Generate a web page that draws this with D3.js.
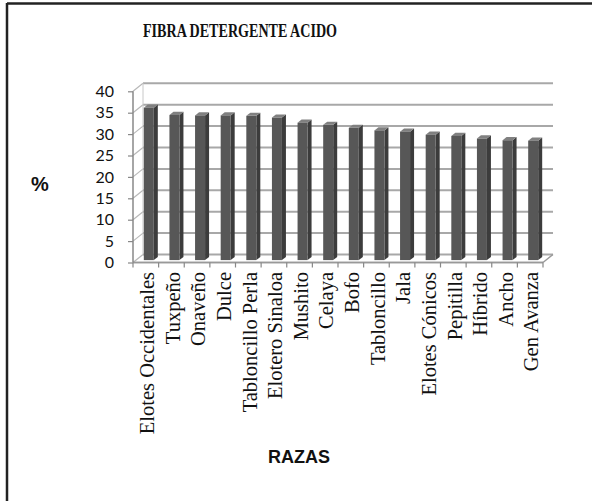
<!DOCTYPE html>
<html><head><meta charset="utf-8">
<script src="https://cdn.jsdelivr.net/npm/d3@7"></script>
<style>body{margin:0;background:#fff}svg{display:block}</style>
</head><body>
<svg id="c" width="592" height="501"></svg>
<script>
const categories = ["Elotes Occidentales","Tuxpeño","Onaveño","Dulce","Tabloncillo Perla","Elotero Sinaloa","Mushito","Celaya","Bofo","Tabloncillo","Jala","Elotes Cónicos","Pepitilla","Híbrido","Ancho","Gen Avanza"];
const values = [35.6,33.9,33.8,33.8,33.7,33.3,32.1,31.6,30.9,30.3,30.0,29.3,29.0,28.4,28.0,27.9];
const yTicks = [0,5,10,15,20,25,30,35,40];
const title = "FIBRA DETERGENTE ACIDO";
const yTitle = "%";
const xTitle = "RAZAS";

const svg = d3.select("#c");
const W = 592, H = 501;
const left = 133, right = 543;
const y0px = 262.5, y40px = 91.3;
const D = {dx: 10, dy: -8};

const x = d3.scaleBand().domain(categories).range([left, right]).padding(0);
const y = d3.scaleLinear().domain([0, 40]).range([y0px, y40px]);

// frame
svg.append("line").attr("x1",7).attr("y1",3.5).attr("x2",W).attr("y2",3.5).attr("stroke","#222").attr("stroke-width",2.5);
svg.append("line").attr("x1",7).attr("y1",3).attr("x2",7).attr("y2",H).attr("stroke","#222").attr("stroke-width",2.5);

// title
svg.append("text").attr("x",240).attr("y",37).attr("text-anchor","middle")
  .attr("font-family","'Liberation Serif','Times New Roman',serif").attr("font-weight","bold")
  .attr("font-size",18).attr("textLength",194).attr("lengthAdjust","spacingAndGlyphs")
  .attr("fill","#111").text(title);

const g = svg.append("g");
const gridColor = "#a8a8a8";

// back wall gridlines
yTicks.forEach(t => {
  g.append("line").attr("x1", left + D.dx).attr("x2", right + D.dx)
    .attr("y1", y(t) + D.dy).attr("y2", y(t) + D.dy)
    .attr("stroke", gridColor).attr("stroke-width", 2);
  g.append("line").attr("x1", left).attr("y1", y(t)).attr("x2", left + D.dx).attr("y2", y(t) + D.dy)
    .attr("stroke", "#b8b8b8").attr("stroke-width", 1.2);
});
g.append("line").attr("x1", left + D.dx).attr("x2", left + D.dx).attr("y1", y(0) + D.dy).attr("y2", y(40) + D.dy)
  .attr("stroke", "#c8c8c8").attr("stroke-width", 1);
g.append("line").attr("x1", left).attr("x2", right).attr("y1", y(0)).attr("y2", y(0))
  .attr("stroke", "#999").attr("stroke-width", 1.5);
g.append("line").attr("x1", right).attr("y1", y(0)).attr("x2", right + D.dx).attr("y2", y(0) + D.dy)
  .attr("stroke", "#999").attr("stroke-width", 1.5);

// bars
const w = 10, f0 = 0.3, fd = 0.4;
categories.forEach((c, i) => {
  const v = values[i];
  const x0 = x(c) + x.bandwidth()/2 - w/2 + f0 * D.dx;
  const top = y(v) + f0 * D.dy, bot = y(0) + f0 * D.dy;
  const ddx = fd * D.dx, ddy = fd * D.dy;
  g.append("polygon").attr("points", [[x0+w,top],[x0+w+ddx,top+ddy],[x0+w+ddx,bot+ddy],[x0+w,bot]].join(" "))
    .attr("fill", "#3c3c3c");
  g.append("polygon").attr("points", [[x0,top],[x0+ddx,top+ddy],[x0+w+ddx,top+ddy],[x0+w,top]].join(" "))
    .attr("fill", "#808080");
  g.append("rect").attr("x", x0).attr("y", top).attr("width", w).attr("height", bot - top)
    .attr("fill", "#575757");
});

g.append("line").attr("x1", left).attr("x2", right).attr("y1", y(0)).attr("y2", y(0))
  .attr("stroke", "#999").attr("stroke-width", 1.5);
d3.range(categories.length + 1).forEach(i => {
  const xx = left + i * x.step();
  g.append("line").attr("x1", xx).attr("x2", xx).attr("y1", y(0)).attr("y2", y(0) + 5)
    .attr("stroke", "#888").attr("stroke-width", 1.2);
});

g.append("line").attr("x1", left).attr("x2", left).attr("y1", y(0)).attr("y2", y(40))
  .attr("stroke", "#888").attr("stroke-width", 1.5);
const yAxis = d3.axisLeft(y).tickValues(yTicks).tickSize(5).tickPadding(14);
const ya = svg.append("g").attr("transform", `translate(${left},0)`).call(yAxis);
ya.select(".domain").remove();
ya.selectAll(".tick line").attr("stroke", "#888").attr("stroke-width", 1.2);
ya.selectAll(".tick text").attr("font-family", "Lato,'Liberation Sans',sans-serif")
  .attr("font-size", 16).attr("fill", "#111");

categories.forEach(c => {
  const cx = x(c) + x.bandwidth()/2 + 1;
  svg.append("text").attr("transform", `translate(${cx},272) rotate(-90)`)
    .attr("text-anchor", "end").attr("dy", "0.35em")
    .attr("font-family", "'Liberation Serif','Times New Roman',serif")
    .attr("font-size", 20.5).attr("fill", "#111").text(c);
});

svg.append("text").attr("x", 40).attr("y", 191).attr("text-anchor", "middle")
  .attr("font-family", "'Liberation Sans',Arial,sans-serif").attr("font-weight", "bold")
  .attr("font-size", 20).attr("fill", "#111").text(yTitle);
svg.append("text").attr("x", 299).attr("y", 463).attr("text-anchor", "middle")
  .attr("font-family", "'Liberation Sans',Arial,sans-serif").attr("font-weight", "bold")
  .attr("font-size", 18).attr("fill", "#111").text(xTitle);
</script>
</body></html>
